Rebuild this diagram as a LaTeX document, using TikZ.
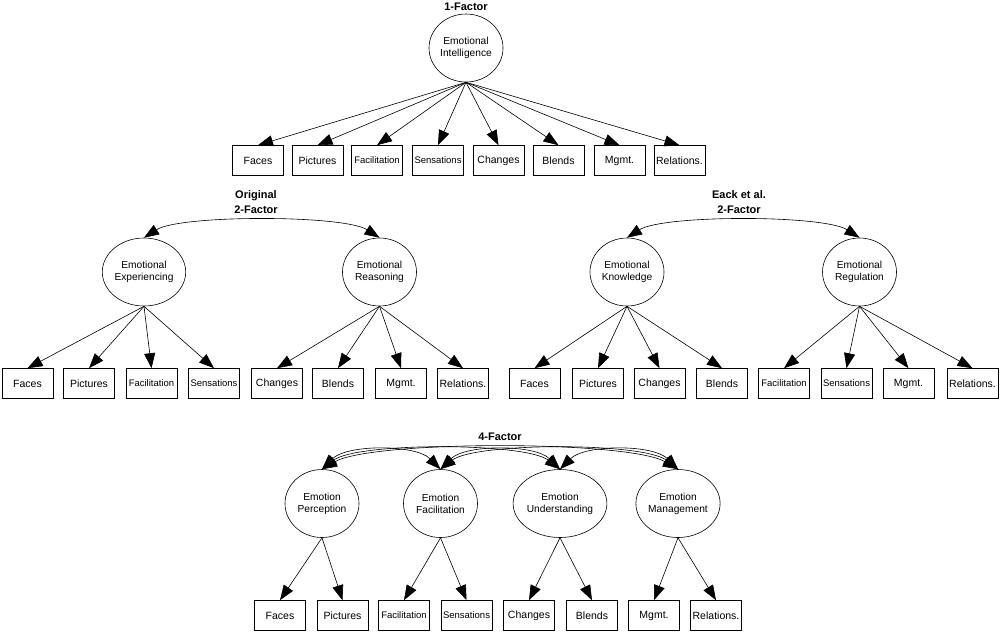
\documentclass[tikz,border=0pt]{standalone}
\usepackage{fontspec}
\setmainfont{Liberation Sans}
\usetikzlibrary{shapes.geometric,arrows.meta}
\begin{document}
\begin{tikzpicture}[x=1pt,y=-1pt,
 lat/.style={ellipse,draw,line width=0.6pt,minimum width=74pt,minimum height=68pt,inner sep=0pt,align=center,font=\fontsize{10.2}{12}\selectfont},
 obs/.style={rectangle,draw,line width=0.6pt,minimum width=51pt,minimum height=30pt,inner sep=0pt,font=\fontsize{10.5}{12}\selectfont},
 narrow/.style={font=\fontsize{9.5}{11}\selectfont},
 ttl/.style={align=center,font=\fontsize{11}{15}\selectfont\bfseries},
 load/.style={-{Triangle[length=15pt,width=11pt]},line width=0.6pt},
 cov/.style={{Triangle[length=15pt,width=11pt]}-{Triangle[length=15pt,width=11pt]},line width=0.6pt},
]
\useasboundingbox (0,0) rectangle (1000,633);

% ---------- 1-Factor ----------
\node[ttl] (t1) at (466,7) {1-Factor};
\node[lat] (ei) at (466,48) {Emotional\\Intelligence};
\node[obs] (a1) at (258,160.5) {Faces};
\node[obs] (a2) at (317.5,160.5) {Pictures};
\node[obs,narrow] (a3) at (377,160.5) {Facilitation};
\node[obs,narrow] (a4) at (438,160.5) {Sensations};
\node[obs] (a5) at (498.5,160.5) {Changes};
\node[obs] (a6) at (558.5,160.5) {Blends};
\node[obs] (a7) at (619.5,160.5) {Mgmt.};
\node[obs] (a8) at (679.5,160.5) {Relations.};
\foreach \i in {1,...,8} \draw[load] (ei.south) -- (a\i.north);

% ---------- Original 2-Factor ----------
\node[ttl] (t2) at (256,202.5) {Original\\2-Factor};
\node[lat] (ee) at (144,272) {Emotional\\Experiencing};
\node[lat] (er) at (379.5,272) {Emotional\\Reasoning};
\draw[cov] (ee.north) .. controls +(36,-23) and +(-36,-23) .. (er.north);
\node[obs] (b1) at (27.5,383.5) {Faces};
\node[obs] (b2) at (89,383.5) {Pictures};
\node[obs,narrow] (b3) at (151.5,383.5) {Facilitation};
\node[obs,narrow] (b4) at (214,383.5) {Sensations};
\node[obs] (b5) at (277,383.5) {Changes};
\node[obs] (b6) at (338,383.5) {Blends};
\node[obs] (b7) at (401,383.5) {Mgmt.};
\node[obs] (b8) at (463,383.5) {Relations.};
\foreach \i in {1,...,4} \draw[load] (ee.south) -- (b\i.north);
\foreach \i in {5,...,8} \draw[load] (er.south) -- (b\i.north);

% ---------- Eack et al. 2-Factor ----------
\node[ttl] (t3) at (739,202.5) {Eack et al.\\2-Factor};
\node[lat] (ek) at (627,272) {Emotional\\Knowledge};
\node[lat] (eg) at (859.5,272) {Emotional\\Regulation};
\draw[cov] (ek.north) .. controls +(36,-23) and +(-36,-23) .. (eg.north);
\node[obs] (c1) at (534.5,383.5) {Faces};
\node[obs] (c2) at (598,383.5) {Pictures};
\node[obs] (c3) at (659.5,383.5) {Changes};
\node[obs] (c4) at (722,383.5) {Blends};
\node[obs,narrow] (c5) at (784,383.5) {Facilitation};
\node[obs,narrow] (c6) at (846.5,383.5) {Sensations};
\node[obs] (c7) at (908.5,383.5) {Mgmt.};
\node[obs] (c8) at (972.5,383.5) {Relations.};
\foreach \i in {1,...,4} \draw[load] (ek.south) -- (c\i.north);
\foreach \i in {5,...,8} \draw[load] (eg.south) -- (c\i.north);

% ---------- 4-Factor ----------
\node[ttl] (t4) at (500,437) {4-Factor};
\node[lat] (ep) at (322,503.5) {Emotion\\Perception};
\node[lat] (ef) at (440.5,503.5) {Emotion\\Facilitation};
\node[lat] (eu) at (560,503.5) {Emotion\\Understanding};
\node[lat] (em) at (678,503.5) {Emotion\\Management};
\draw[cov] (ep.north) .. controls +(25,-25) and +(-25,-25) .. (ef.north);
\draw[cov] (ef.north) .. controls +(25,-25) and +(-25,-25) .. (eu.north);
\draw[cov] (eu.north) .. controls +(25,-25) and +(-25,-25) .. (em.north);
\draw[cov] (ep.north) .. controls +(35,-27) and +(-35,-27) .. (eu.north);
\draw[cov] (ef.north) .. controls +(35,-27) and +(-35,-27) .. (em.north);
\draw[cov] (ep.north) .. controls +(50,-29) and +(-50,-29) .. (em.north);
\node[obs] (d1) at (280,615.5) {Faces};
\node[obs] (d2) at (342.5,615.5) {Pictures};
\node[obs,narrow] (d3) at (404,615.5) {Facilitation};
\node[obs,narrow] (d4) at (466.5,615.5) {Sensations};
\node[obs] (d5) at (529,615.5) {Changes};
\node[obs] (d6) at (592,615.5) {Blends};
\node[obs] (d7) at (654,615.5) {Mgmt.};
\node[obs] (d8) at (716,615.5) {Relations.};
\draw[load] (ep.south) -- (d1.north);
\draw[load] (ep.south) -- (d2.north);
\draw[load] (ef.south) -- (d3.north);
\draw[load] (ef.south) -- (d4.north);
\draw[load] (eu.south) -- (d5.north);
\draw[load] (eu.south) -- (d6.north);
\draw[load] (em.south) -- (d7.north);
\draw[load] (em.south) -- (d8.north);
\end{tikzpicture}
\end{document}
